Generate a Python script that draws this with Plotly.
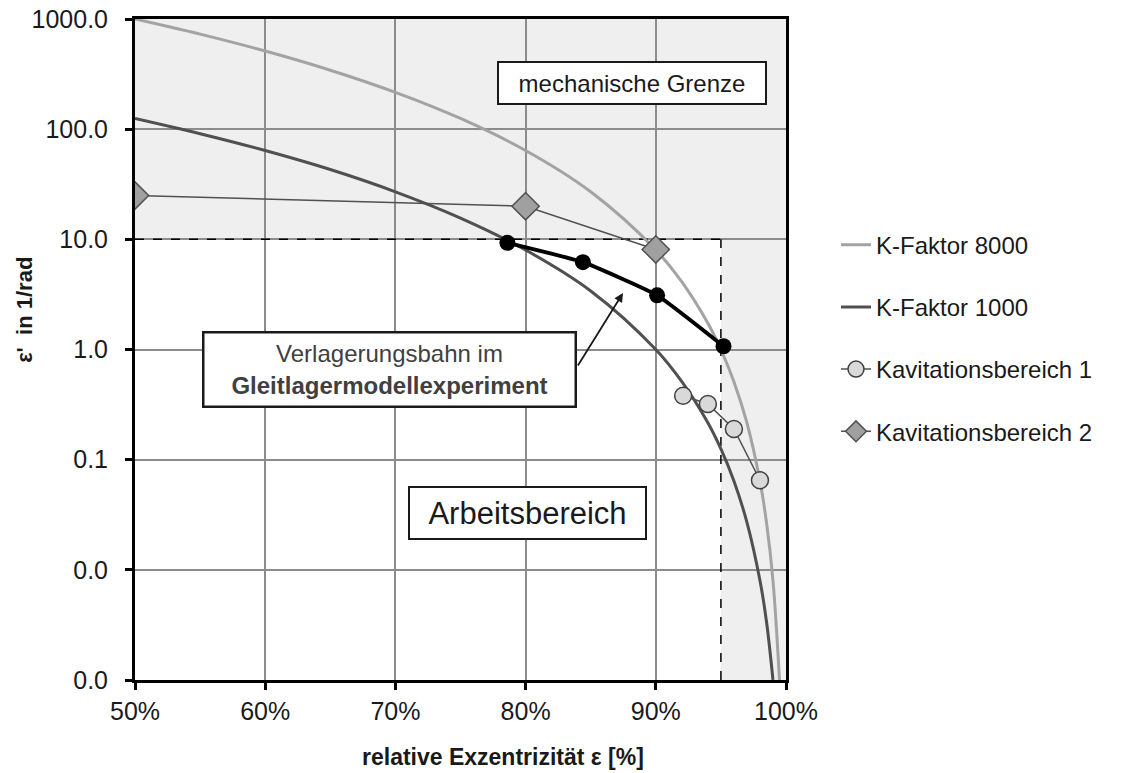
import plotly.graph_objects as go

# values
eps_k8000 = [50, 55, 60, 65, 70, 75, 80, 85, 90, 92, 94, 95, 96, 97, 98, 98.5, 99, 99.5]
val_k8000 = [1000, 729, 512, 343, 216, 125, 64, 27, 8.0, 4.1, 1.73, 1.0, 0.51, 0.216, 0.064, 0.027, 0.008, 0.001]

eps_k1000 = [50, 55, 60, 65, 70, 75, 80, 85, 90, 92, 94, 95, 96, 97, 98, 98.5, 99]
val_k1000 = [125, 91, 64, 43, 27, 15.6, 8.0, 3.4, 1.0, 0.51, 0.216, 0.125, 0.064, 0.027, 0.008, 0.0034, 0.001]

eps_kav1 = [92.1, 94.0, 96.0, 98.0]
val_kav1 = [0.38, 0.32, 0.19, 0.065]

eps_kav2 = [50, 80, 90]
val_kav2 = [25, 20, 8.1]

eps_path = [78.6, 84.4, 90.1, 95.2]
val_path = [9.3, 6.2, 3.1, 1.07]

y_ticks = [0.001, 0.01, 0.1, 1, 10, 100, 1000]
y_labels = ['0.0', '0.0', '0.1', '1.0', '10.0', '100.0', '1000.0']
x_ticks = [50, 60, 70, 80, 90, 100]
x_labels = ['50%', '60%', '70%', '80%', '90%', '100%']

FONT = 'Liberation Sans, Arial, sans-serif'

fig = go.Figure()
fig.add_trace(go.Scatter(
    x=eps_k8000, y=val_k8000, mode='lines', name='K-Faktor 8000',
    line=dict(color='#a3a3a3', width=3, shape='spline'), legendgroup='a'
))
fig.add_trace(go.Scatter(
    x=eps_k1000, y=val_k1000, mode='lines', name='K-Faktor 1000',
    line=dict(color='#505050', width=3, shape='spline'), legendgroup='b'
))
fig.add_trace(go.Scatter(
    x=eps_kav1, y=val_kav1, mode='lines+markers', name='Kavitationsbereich 1',
    line=dict(color='#505050', width=1.5),
    marker=dict(symbol='circle', size=17, color='#d9d9d9', line=dict(color='#404040', width=1.5)),
    legendgroup='c'
))
fig.add_trace(go.Scatter(
    x=eps_kav2, y=val_kav2, mode='lines+markers', name='Kavitationsbereich 2',
    line=dict(color='#505050', width=1.5),
    marker=dict(symbol='diamond', size=21, color='#a0a0a0', line=dict(color='#505050', width=1.5)),
    legendgroup='d'
))
fig.add_trace(go.Scatter(
    x=eps_path, y=val_path, mode='lines+markers', name='Verlagerungsbahn',
    line=dict(color='#000000', width=4, shape='spline', smoothing=0.4),
    marker=dict(size=16, color='#000000'), showlegend=False
))

# white working area and its dashed border
fig.add_shape(type='rect', xref='x', yref='y', x0=50, x1=95, y0=0.001, y1=10,
              fillcolor='white', line=dict(width=0), layer='below')
fig.add_shape(type='line', xref='x', yref='y', x0=50, x1=95, y0=10, y1=10,
              line=dict(color='black', width=1.5, dash='dash'), layer='between')
fig.add_shape(type='line', xref='x', yref='y', x0=95, x1=95, y0=0.001, y1=10,
              line=dict(color='black', width=1.5, dash='dash'), layer='between')

fig.add_annotation(x=88.17, y=2.419, xref='x', yref='y', text='mechanische Grenze',
                   showarrow=False, font=dict(family=FONT, size=24, color='#1a1a1a'),
                   bgcolor='white', bordercolor='#1a1a1a', borderwidth=2, borderpad=0,
                   width=266, height=40)
fig.add_annotation(x=69.55, y=-0.177, xref='x', yref='y',
                   text='Verlagerungsbahn im<br><b>Gleitlagermodellexperiment</b>',
                   showarrow=False, font=dict(family=FONT, size=24, color='#404040'),
                   bgcolor='white', bordercolor='#1a1a1a', borderwidth=2.5, borderpad=0,
                   width=370, height=72)
fig.add_annotation(x=80.15, y=-1.484, xref='x', yref='y', text='Arbeitsbereich',
                   showarrow=False, font=dict(family=FONT, size=31, color='#1a1a1a'),
                   bgcolor='white', bordercolor='#1a1a1a', borderwidth=2, borderpad=0,
                   width=235, height=50)
fig.add_annotation(x=87.48, y=0.513, xref='x', yref='y', text='', showarrow=True,
                   ax=-46, ay=74, arrowhead=2, arrowsize=1, arrowwidth=1.8,
                   arrowcolor='#1a1a1a', standoff=0)

# axis titles
fig.add_annotation(x=-0.169, y=0.56, xref='paper', yref='paper', text="<b>ε'  in 1/rad</b>",
                   xanchor='center', yanchor='middle', textangle=-90, showarrow=False,
                   font=dict(family=FONT, size=22, color='#1a1a1a'))
fig.add_annotation(x=0.565, y=-0.139, xref='paper', yref='paper',
                   text='<b>relative Exzentrizität ε [%]</b>',
                   xanchor='center', yanchor='bottom', showarrow=False,
                   font=dict(family=FONT, size=23, color='#1a1a1a'))

fig.update_xaxes(
    range=[50, 100], tickvals=x_ticks, ticktext=x_labels, automargin=False,
    showgrid=True, gridcolor='#8c8c8c', gridwidth=1.5,
    showline=True, linecolor='black', linewidth=3, mirror=True,
    ticks='outside', ticklen=7, tickwidth=3, tickcolor='black',
    tickfont=dict(family=FONT, size=25, color='#1a1a1a'), zeroline=False
)
fig.update_yaxes(
    type='log', range=[-3, 3], tickvals=y_ticks, ticktext=y_labels, automargin=False,
    showgrid=True, gridcolor='#8c8c8c', gridwidth=1.5,
    showline=True, linecolor='black', linewidth=3, mirror=True,
    ticks='outside', ticklen=7, tickwidth=3, tickcolor='black',
    tickfont=dict(family=FONT, size=25, color='#1a1a1a'), ticklabelstandoff=12,
    ticklabeloverflow='allow'
)

fig.update_layout(
    width=1126, height=773,
    margin=dict(l=135, r=340, t=19, b=93, autoexpand=False),
    paper_bgcolor='white', plot_bgcolor='#efefef',
    font=dict(family=FONT, color='#1a1a1a'),
    legend=dict(x=1.0768, y=0.692, xanchor='left', yanchor='top',
                font=dict(family=FONT, size=24, color='#1a1a1a'),
                traceorder='grouped', tracegroupgap=28, itemwidth=30,
                bgcolor='rgba(0,0,0,0)'),
    showlegend=True
)

# drop the default body margin so the figure sits at the page's top-left corner
fig.write_html("out.html", config={'displayModeBar': False},
               post_script="document.body.style.margin = '0';")
